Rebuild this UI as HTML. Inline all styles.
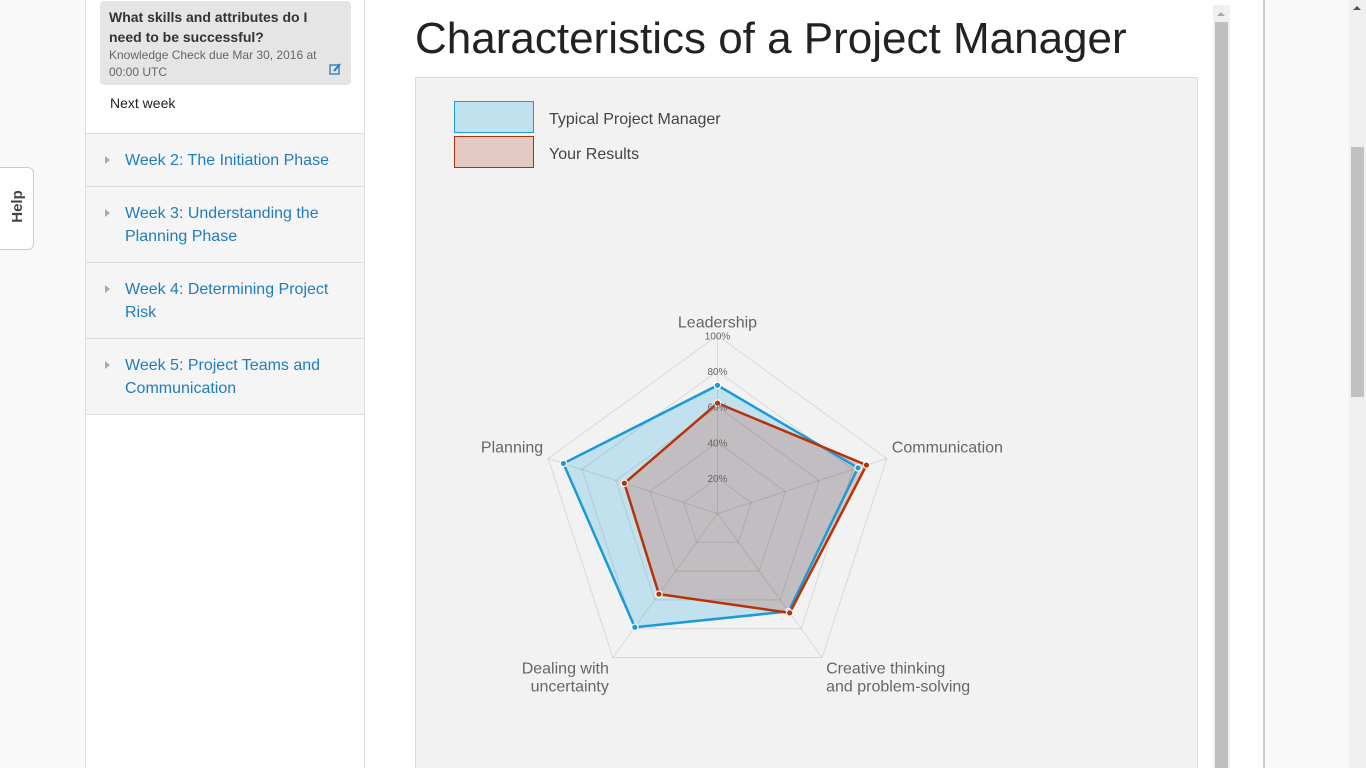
<!DOCTYPE html>
<html><head><meta charset="utf-8">
<style>
*{box-sizing:border-box;margin:0;padding:0}
html,body{width:1366px;height:768px;overflow:hidden}
body{background:#f9f9f9;font-family:"Liberation Sans",sans-serif;position:relative}
.side{position:absolute;left:85px;top:0;width:280px;height:768px;background:#fff;border-left:1px solid #ddd;border-right:1px solid #ddd}
.card{position:absolute;left:14px;top:1px;width:251px;height:84px;background:#e5e5e5;border-radius:4px;padding:6px 9px}
.card b{font-size:14px;color:#333;line-height:20px;display:block}
.card span{font-size:12px;color:#666;line-height:17px;display:block}
.nw{position:absolute;left:24px;top:95px;font-size:14px;color:#222}
.wk{position:absolute;left:0;width:278px;background:#f5f5f5;border-top:1px solid #ddd;padding:15px 30px 0 39px;font-size:16px;color:#1f7cbf;line-height:23px}
.wk:before{content:"";position:absolute;left:19px;top:22px;border-left:5px solid #aaa;border-top:4px solid transparent;border-bottom:4px solid transparent}
.main{position:absolute;left:365px;top:0;width:900px;height:768px;background:#fff;border-right:2px solid #ccc}
h1{position:absolute;left:415px;top:14px;font-size:44px;font-weight:normal;color:#222}
.box{position:absolute;left:415px;top:77px;width:783px;height:691px;background:#f2f2f2;border:1px solid #ddd;border-bottom:none}
.help{position:absolute;left:-4px;top:167px;width:38px;height:83px;background:#fff;border:1px solid #ccc;border-radius:0 6px 6px 0}
.help span{position:absolute;left:4px;top:30px;transform:rotate(-90deg);font-size:15px;color:#444;font-weight:bold}
</style></head><body>
<div class="side">
 <div class="card"><b>What skills and attributes do I need to be successful?</b><span>Knowledge Check due Mar 30, 2016 at 00:00 UTC</span>
 <svg style="position:absolute;right:10px;bottom:10px" width="12" height="12"><rect x="1" y="2" width="9" height="9" fill="none" stroke="#1f7cbf" stroke-width="1.3"/><path d="M5 8 L11 1" stroke="#1f7cbf" stroke-width="2"/></svg></div>
 <div class="nw">Next week</div>
 <div class="wk" style="top:133px;height:54px">Week 2: The Initiation Phase</div>
 <div class="wk" style="top:186px;height:77px">Week 3: Understanding the Planning Phase</div>
 <div class="wk" style="top:262px;height:77px">Week 4: Determining Project Risk</div>
 <div class="wk" style="top:338px;height:77px;border-bottom:1px solid #ddd">Week 5: Project Teams and Communication</div>
</div>
<div class="help"><span>Help</span></div>
<div class="main"></div>
<h1>Characteristics of a Project Manager</h1>
<div class="box"></div>
<div style="position:absolute;left:1213px;top:5px;width:17px;height:763px;background:#f0f0f0"><div style="position:absolute;left:2px;top:17px;width:13px;height:746px;background:#bfbfbf"></div><div style="position:absolute;left:4px;top:7px;border-bottom:4px solid #aaa;border-left:4px solid transparent;border-right:4px solid transparent"></div></div>
<div style="position:absolute;left:1349px;top:0;width:17px;height:768px;background:#f0f0f0"><div style="position:absolute;left:2px;top:147px;width:13px;height:250px;background:#c1c1c1"></div><div style="position:absolute;left:4px;top:6px;border-bottom:4px solid #505050;border-left:4px solid transparent;border-right:4px solid transparent"></div></div>
<svg id="chart" width="1366" height="768" style="position:absolute;left:0;top:0" font-family="Liberation Sans, sans-serif">
 <rect x="454.5" y="101.5" width="79" height="31" fill="#c2e1ee" stroke="#1b9ad8"/>
 <text x="549" y="124" font-size="16" fill="#444">Typical Project Manager</text>
 <rect x="454.5" y="136.5" width="79" height="31" fill="#e4c8c2" stroke="#b03010"/>
 <text x="549" y="159" font-size="16" fill="#444">Your Results</text>
</svg>
<script>
const axes=["Leadership","Communication","Creative thinking|and problem-solving","Dealing with|uncertainty","Planning"];
const typical=[0.72,0.83,0.68,0.79,0.91];
const results=[0.62,0.88,0.69,0.56,0.55];
const ticks=["20%","40%","60%","80%","100%"];
const ns="http://www.w3.org/2000/svg",svg=document.getElementById('chart');
const cx=717.5,cy=513.5,R=178;
function pt(i,v){const a=-Math.PI/2+i*2*Math.PI/axes.length;return [cx+R*v*Math.cos(a),cy+R*v*Math.sin(a)];}
function mk(t,at){const e=document.createElementNS(ns,t);for(const k in at)e.setAttribute(k,at[k]);svg.appendChild(e);return e;}
function series(vals,fill,stroke,name){
 const pg=mk('polygon',{points:vals.map((v,i)=>pt(i,v).join(',')).join(' '),fill:fill,stroke:'none'});
 
 
}
series(typical,'#c2e1ee','#1b9ad8','typical');
series(results,'rgba(193,147,136,0.45)','#b83208','results');
ticks.forEach((t,j)=>{const v=(j+1)/ticks.length;
 const g=mk('polygon',{points:axes.map((_,i)=>pt(i,v).join(',')).join(' '),fill:'none',stroke:'rgba(0,0,0,0.1)','stroke-width':1});
 
 });
axes.forEach((_,i)=>{const p=pt(i,1);const l=mk('line',{x1:cx,y1:cy,x2:p[0],y2:p[1],stroke:'rgba(0,0,0,0.1)'});
 
 });
function outline(vals,stroke,name){
 const pl=mk('polygon',{points:vals.map((v,i)=>pt(i,v).join(',')).join(' '),fill:'none',stroke:stroke,'stroke-width':2.5});
 
 
 vals.forEach((v,i)=>{const p=pt(i,v);const c=mk('circle',{cx:p[0],cy:p[1],r:3.2,fill:stroke,stroke:'#fff','stroke-width':1.2});
  
  });
}
outline(typical,'#1b9ad8','typical');
outline(results,'#b83208','results');
ticks.forEach((t,j)=>{const v=(j+1)/ticks.length;const tx=mk('text',{x:cx,y:cy-R*v+4,'font-size':10,fill:'#666','text-anchor':'middle'});tx.textContent=t;
 
 });
axes.forEach((a,i)=>{const p=pt(i,1);let x=p[0],y=p[1],an='middle';
 if(i==0){y=cy-R-8;}else if(i==1){x+=5;y+=-6;an='start';}else if(i==2){x+=4;y+=16;an='start';}else if(i==3){x-=4;y+=16;an='end';}else{x-=5;y-=6;an='end';}
 a.split('|').forEach((ln,k)=>{const tx=mk('text',{x:x,y:y+k*18,'font-size':16,fill:'#666','text-anchor':an});tx.textContent=ln;
  
  });});
</script>
</body></html>
